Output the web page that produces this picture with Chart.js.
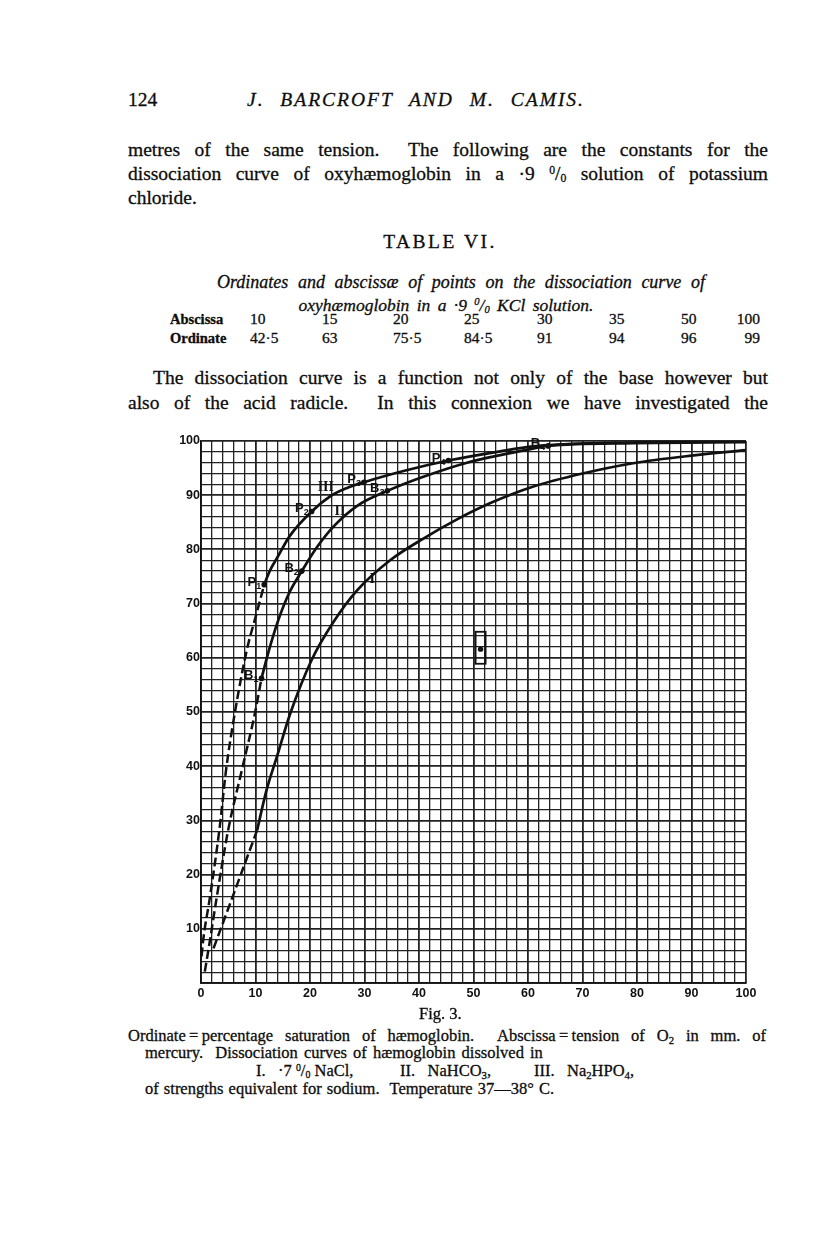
<!DOCTYPE html>
<html>
<head>
<meta charset="utf-8">
<script src="https://cdn.jsdelivr.net/npm/chart.js@4.4.0/dist/chart.umd.min.js"></script>
<style>
  body { margin: 0; background: #fff; }
  #page { position: relative; width: 816px; height: 1256px; background: #fff; color: #0d0d0d;
          font-family: "Liberation Serif", "DejaVu Serif", serif; }
  .t { position: absolute; white-space: nowrap; line-height: 1.2; -webkit-text-stroke: 0.3px #0d0d0d; }
  .j { white-space: normal; text-align: justify; text-align-last: justify; }
  .body { font-size: 19.5px; }
  .cap { font-size: 16.5px; }
  .pc sup, .pc sub { font-size: 0.6em; line-height: 0; }
  .pc sup { vertical-align: 0.55em; }
  .pc sub { vertical-align: -0.2em; }
  sub.s { font-size: 0.65em; line-height: 0; vertical-align: -0.25em; }
  #chartBox { position: absolute; left: 170px; top: 430px; width: 590px; height: 575px; }
</style>
</head>
<body>
<div id="page">
  <div class="t body" style="left:128px; top:88px;">124</div>
  <div class="t body j" style="left:247px; top:88px; width:338px; font-style:italic; letter-spacing:2px;">J. BARCROFT AND M. CAMIS.</div>

  <div class="t body j" style="left:128px; top:138px; width:640px;">metres of the same tension.&nbsp; The following are the constants for the</div>
  <div class="t body j pc" style="left:128px; top:162px; width:640px;">dissociation curve of oxyhæmoglobin in a ·9 <sup>0</sup>/<sub>0</sub> solution of potassium</div>
  <div class="t body" style="left:128px; top:186px;">chloride.</div>

  <div class="t body" style="left:340px; top:230px; width:200px; text-align:center; letter-spacing:2.5px;">TABLE VI.</div>

  <div class="t j" style="left:217px; top:272px; width:488px; font-size:18px; font-style:italic;">Ordinates and abscissæ of points on the dissociation curve of</div>
  <div class="t pc" style="left:246px; top:295px; width:400px; text-align:center; font-size:17.5px; font-style:italic; word-spacing:3px;">oxyhæmoglobin in a ·9 <sup>0</sup>/<sub>0</sub> KCl solution.</div>

  <div id="table"></div>

  <div class="t body j" style="left:153px; top:366px; width:615px;">The dissociation curve is a function not only of the base however but</div>
  <div class="t body j" style="left:128px; top:391px; width:640px;">also of the acid radicle.&nbsp; In this connexion we have investigated the</div>

  <div id="chartBox"><canvas id="chart" width="590" height="575"></canvas></div>

  <div class="t cap" style="left:419px; top:1004px;">Fig. 3.</div>
  <div class="t cap j" style="left:128px; top:1026px; width:638px;">Ordinate&#8201;=&#8201;percentage saturation of hæmoglobin.&nbsp; Abscissa&#8201;=&#8201;tension of O<sub class="s">2</sub> in mm. of</div>
  <div class="t cap" style="left:145px; top:1043px; word-spacing:2px;">mercury.&nbsp; Dissociation curves of hæmoglobin dissolved in</div>
  <div class="t cap pc" style="left:256px; top:1061px;">I.&nbsp;&nbsp; ·7 <sup>0</sup>/<sub>0</sub> NaCl,</div>
  <div class="t cap" style="left:400px; top:1061px;">II.&nbsp;&nbsp; NaHCO<sub class="s">3</sub>,</div>
  <div class="t cap" style="left:534px; top:1061px;">III.&nbsp;&nbsp; Na<sub class="s">2</sub>HPO<sub class="s">4</sub>,</div>
  <div class="t cap" style="left:145px; top:1079px; word-spacing:1px;">of strengths equivalent for sodium.&nbsp; Temperature 37—38° C.</div>
</div>

<script>
// Table VI (KCl solution)
const tableAbscissa = ["10", "15", "20", "25", "30", "35", "50", "100"];
const tableOrdinate = ["42·5", "63", "75·5", "84·5", "91", "94", "96", "99"];

// Fig. 3 curves (x = O2 tension mm, y = % saturation)
const curveISolidX = [10.3, 12, 14, 16.3, 20.3, 24.3, 28.6, 34.7, 40.8, 46.9, 53, 61, 70, 79.3, 90, 100];
const curveISolidY = [28.2, 35.5, 42, 49.5, 59.6, 66.6, 72.4, 78, 82, 85.5, 88.5, 91.6, 94, 95.9, 97.3, 98.3];
const curveIDashX = [2.3, 6.2, 10.3];
const curveIDashY = [6.4, 17, 28.2];

const curveIISolidX = [11.1, 12.5, 14.2, 16.2, 18.5, 21.2, 24.3, 28.6, 34.2, 40.8, 48.8, 54.9, 60.9, 63.7, 79.3, 100];
const curveIISolidY = [56.2, 61.5, 67, 72, 76, 80.3, 84.2, 88, 90.8, 93.4, 96, 97.4, 98.6, 99.1, 99.6, 99.8];
const curveIIDashX = [0.7, 1.65, 2.9, 5.0, 7.5, 9.9, 11.1];
const curveIIDashY = [2.1, 7.9, 15.9, 28.3, 39.3, 49.8, 56.2];

const curveIIISolidX = [11.6, 12.6, 14, 16.3, 20.3, 23.7, 26.7, 29.9, 37.7, 45.4, 54.9, 61, 73, 86, 100];
const curveIIISolidY = [73.5, 76, 78.5, 82.5, 87, 89.8, 91.3, 92.4, 94.6, 96.4, 98.1, 99, 99.6, 99.8, 99.9];
const curveIIIDashX = [0.1, 0.4, 1.65, 3.4, 4.6, 6.2, 8.4, 10.2, 11.6];
const curveIIIDashY = [4.9, 7.9, 15.9, 28.5, 39.3, 49.8, 61.4, 68.2, 73.5];

// marked points
const markerLetters = ["P", "P", "P", "P", "B", "B", "B", "B"];
const markerSubs = ["1", "2", "3", "4", "1", "2", "3", "4"];
const markerX = [11.6, 20.3, 29.9, 45.4, 11.1, 18.5, 34.2, 63.7];
const markerY = [73.5, 87, 92.4, 96.4, 56.2, 76, 90.8, 99.1];

// curve numerals
const curveNames = ["I", "II", "III"];
const curveNameX = [31.4, 25.5, 22.9];
const curveNameY = [74.4, 87.1, 91.5];

// the small boxed point
const boxX = 51.3;
const boxY = 61.6;
const boxLow = 58.9;
const boxHigh = 64.8;

const xTickLabels = [0, 10, 20, 30, 40, 50, 60, 70, 80, 90, 100];
const yTickLabels = [10, 20, 30, 40, 50, 60, 70, 80, 90, 100];

// table cells
const tbl = document.getElementById("table");
const colLeft = [250, 322, 393, 464, 537, 609, 681];
function cell(text, left, top, extra) {
  const d = document.createElement("div");
  d.className = "t";
  d.style.cssText = "left:" + left + "px;top:" + top + "px;font-size:15.5px;" + (extra || "");
  d.textContent = text;
  tbl.appendChild(d);
}
cell("Abscissa", 170, 311, "font-weight:bold;font-size:14.5px;");
cell("Ordinate", 170, 330, "font-weight:bold;font-size:14.5px;");
tableAbscissa.forEach((v, i) => {
  if (i < colLeft.length) cell(v, colLeft[i], 310);
  else cell(v, 660, 310, "width:100px;text-align:right;");
});
tableOrdinate.forEach((v, i) => {
  if (i < colLeft.length) cell(v, colLeft[i], 329);
  else cell(v, 660, 329, "width:100px;text-align:right;");
});

function pts(xs, ys) {
  return xs.map((x, i) => ({ x: x, y: ys[i] }));
}

const ink = "#111";
const solid = { showLine: true, pointRadius: 0, borderColor: ink, borderWidth: 2.7,
                cubicInterpolationMode: "monotone", fill: false };
const dashed = Object.assign({}, solid, { borderWidth: 2.5, borderDash: [9, 4] });

const annotations = {
  id: "annotations",
  afterDatasetsDraw(chart) {
    const ctx = chart.ctx;
    const xs = chart.scales.x, ys = chart.scales.y;
    ctx.save();
    ctx.fillStyle = ink;
    ctx.strokeStyle = ink;
    // marker labels
    markerX.forEach((mx, i) => {
      const px = xs.getPixelForValue(mx), py = ys.getPixelForValue(markerY[i]);
      ctx.font = "bold 9px 'Liberation Sans', sans-serif";
      const subW = ctx.measureText(markerSubs[i]).width;
      const right = px - 3;
      ctx.textBaseline = "alphabetic";
      ctx.textAlign = "left";
      ctx.fillText(markerSubs[i], right - subW, py + 4);
      ctx.font = "bold 13px 'Liberation Sans', sans-serif";
      const w = ctx.measureText(markerLetters[i]).width;
      ctx.fillText(markerLetters[i], right - subW - w, py + 1);
    });
    // curve numerals
    ctx.font = "bold 14px 'Liberation Serif', serif";
    ctx.textAlign = "center";
    ctx.textBaseline = "middle";
    curveNames.forEach((n, i) => {
      ctx.fillText(n, xs.getPixelForValue(curveNameX[i]), ys.getPixelForValue(curveNameY[i]));
    });
    // boxed point
    const bx = xs.getPixelForValue(boxX);
    const top = ys.getPixelForValue(boxHigh), bot = ys.getPixelForValue(boxLow);
    ctx.lineWidth = 1.8;
    ctx.strokeRect(bx - 5, top, 10, bot - top);
    ctx.beginPath();
    ctx.arc(bx, ys.getPixelForValue(boxY), 2.7, 0, Math.PI * 2);
    ctx.fill();
    ctx.restore();
  }
};

function gridWidth(c) {
  return c.tick && c.tick.value % 10 === 0 ? 1.8 : 1.3;
}

new Chart(document.getElementById("chart"), {
  type: "scatter",
  data: {
    datasets: [
      Object.assign({ label: "I", data: pts(curveISolidX, curveISolidY) }, solid),
      Object.assign({ label: "I dashed", data: pts(curveIDashX, curveIDashY) }, dashed),
      Object.assign({ label: "II", data: pts(curveIISolidX, curveIISolidY) }, solid),
      Object.assign({ label: "II dashed", data: pts(curveIIDashX, curveIIDashY) }, dashed),
      Object.assign({ label: "III", data: pts(curveIIISolidX, curveIIISolidY) }, solid),
      Object.assign({ label: "III dashed", data: pts(curveIIIDashX, curveIIIDashY) }, dashed),
      { label: "points", data: pts(markerX, markerY), showLine: false,
        pointRadius: 2.8, pointBackgroundColor: ink, pointBorderWidth: 0 }
    ]
  },
  options: {
    responsive: false,
    animation: false,
    devicePixelRatio: 1,
    layout: { padding: { top: 11, right: 14, left: 0, bottom: 0 } },
    plugins: { legend: { display: false }, tooltip: { enabled: false } },
    scales: {
      x: {
        type: "linear", min: 0, max: 100,
        afterFit(s) { s.height = 22; },
        ticks: {
          stepSize: 2, autoSkip: false, maxRotation: 0, padding: 3,
          color: ink, font: { family: "'Liberation Sans', sans-serif", size: 12.5, weight: "bold" },
          callback: (v) => xTickLabels.includes(v) ? String(v) : ""
        },
        grid: { color: "#222", lineWidth: gridWidth, drawTicks: false },
        border: { color: ink, width: 1.8 }
      },
      y: {
        type: "linear", min: 0, max: 100,
        afterFit(s) { s.width = 31; },
        ticks: {
          stepSize: 2, autoSkip: false, padding: 1,
          color: ink, font: { family: "'Liberation Sans', sans-serif", size: 12.5, weight: "bold" },
          callback: (v) => yTickLabels.includes(v) ? String(v) : ""
        },
        grid: { color: "#222", lineWidth: gridWidth, drawTicks: false },
        border: { color: ink, width: 1.8 }
      }
    }
  },
  plugins: [annotations]
});
</script>
</body>
</html>
